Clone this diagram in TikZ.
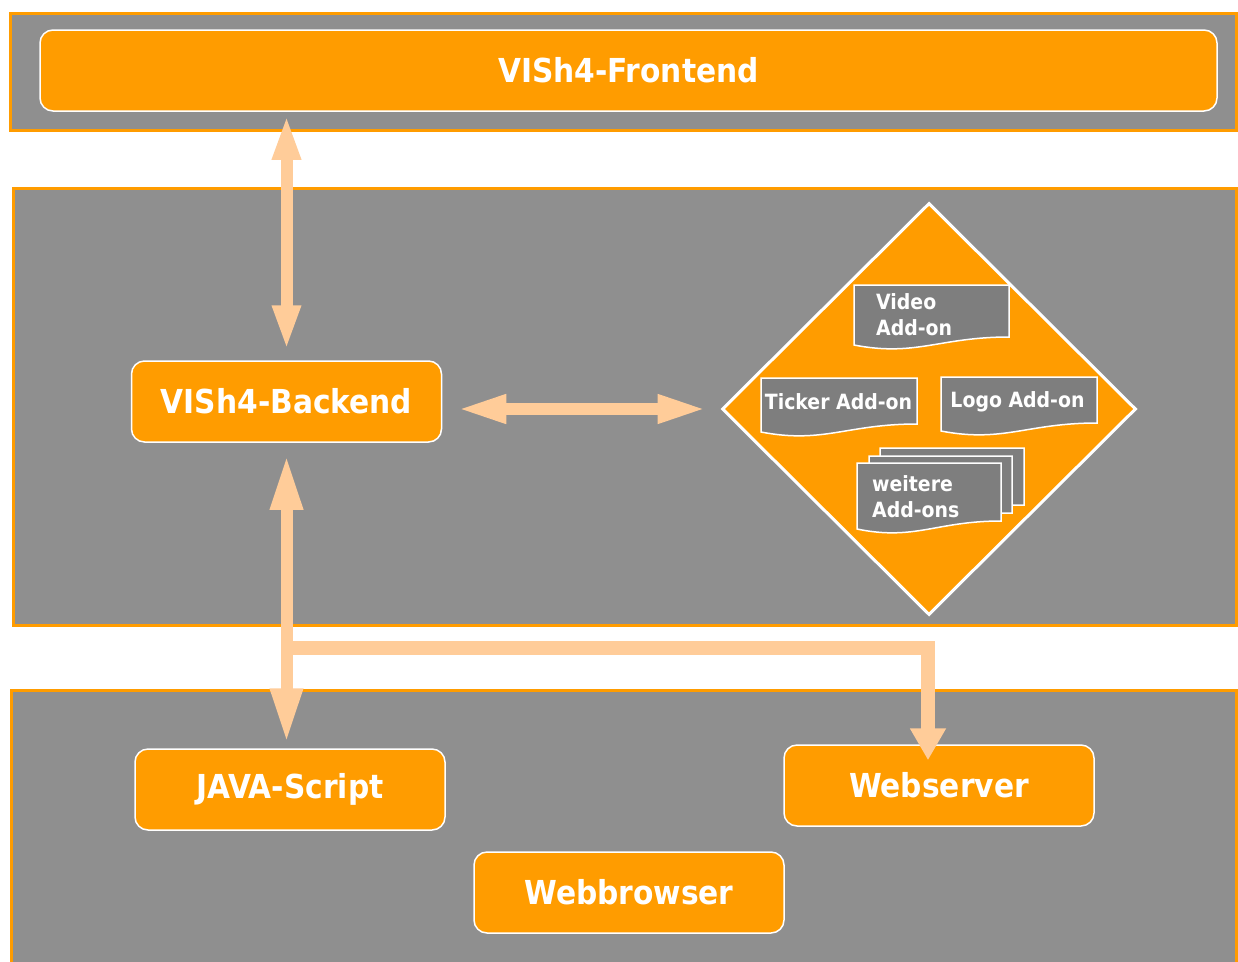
\documentclass[tikz,border=0pt]{standalone}
\usepackage{fontspec}
\setmainfont{DejaVu Sans Condensed}
\usetikzlibrary{shapes.geometric,arrows.meta}

\definecolor{vishorange}{RGB}{255,156,0}
\definecolor{bandgray}{RGB}{143,143,143}
\definecolor{docgray}{RGB}{126,126,126}
\definecolor{peach}{RGB}{255,204,153}

\tikzset{
  band/.style={draw=vishorange, line width=3pt, fill=bandgray},
  box/.style={draw=white, line width=1.5pt, fill=vishorange, rounded corners=13pt,
    text=white, font=\bfseries\fontsize{33}{38}\selectfont,
    minimum width=310pt, minimum height=81pt, inner sep=0pt},
  docshape/.style={draw=white, line width=1.5pt, fill=docgray},
  doctext/.style={text=white, font=\bfseries\fontsize{21}{26}\selectfont,
    align=left, inner sep=0pt},
  flow/.style={draw=peach, line width=12pt}
}

% add-on sheet with a wavy lower edge
\newcommand\addondoc[4]{%
  \draw[docshape] (#1,#2) -- (#3,#2) -- (#3,#4)
    .. controls +({-0.45*(#3-#1)},0) and +({0.4*(#3-#1)},12) .. ({#1},{#4+8}) -- cycle;}

\begin{document}
\begin{tikzpicture}[x=1pt,y=-1pt]
\useasboundingbox (0,0) rectangle (1238,961);

% layers
\draw[band] (10.5,13.5) rectangle (1236.5,130);
\draw[band] (13,188) rectangle (1236.5,625);
\draw[band] (11.5,690) rectangle (1236.5,975);

% main blocks
\node[box, minimum width=1177pt] (frontend) at (628.5,70.5) {VISh4-Frontend};
\node[box] (backend) at (286.5,401.5) {VISh4-Backend};
\node[box] (java) at (290,789.5) {JAVA-Script};
\node[box] (webserver) at (939,785.5) {Webserver};
\node[box] (webbrowser) at (629,892.5) {Webbrowser};

% add-ons
\node[diamond, draw=white, line width=3pt, fill=vishorange,
  minimum width=414pt, minimum height=412pt, inner sep=0pt] (addons) at (929,409) {};
\addondoc{854}{285}{1009}{337}
\addondoc{761}{378}{917}{424}
\addondoc{941}{377}{1097}{423}
\addondoc{880}{448}{1024}{505}
\addondoc{869}{456}{1012}{513}
\addondoc{857}{463}{1001}{521}
\node[doctext, anchor=west] (video) at (876,314.5) {Video\\Add-on};
\node[doctext] (ticker) at (838.5,402) {Ticker Add-on};
\node[doctext] (logo) at (1017.5,402) {Logo Add-on};
\node[doctext, anchor=west] (more) at (872,497) {weitere\\Add-ons};

% connectors
\draw[flow, {Triangle[length=45pt,width=26pt]}-{Triangle[length=45pt,width=26pt]},
  shorten <=10pt, shorten >=3pt] (backend.north) -- (backend.north |- frontend.south);
\draw[flow, {Triangle[length=50pt,width=26pt]}-{Triangle[length=50pt,width=26pt]},
  shorten <=14pt, shorten >=13pt] (backend.east |- addons.west) -- (addons.west);
\coordinate (fork) at ([yshift=-205pt]backend.south);
\draw[flow, {Triangle[length=55pt,width=30pt]}-{Triangle[length=55pt,width=30pt]},
  shorten <=12pt, shorten >=5pt] (backend.south) -- (backend.south |- java.north);
\draw[flow, line width=14pt, -{Triangle[length=32pt,width=34pt]}, shorten >=-16pt]
  (fork) -| ([xshift=-11pt]webserver.north);

\end{tikzpicture}
\end{document}
